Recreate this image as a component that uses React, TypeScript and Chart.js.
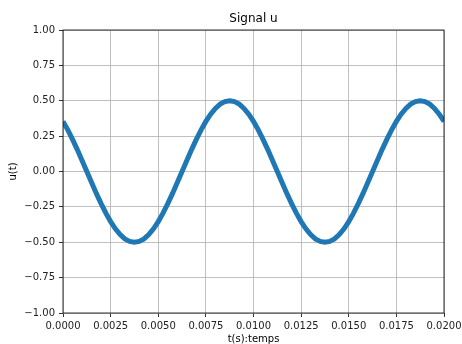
import React, { useEffect, useRef } from "react";
import { Chart, registerables } from "chart.js";

Chart.register(...registerables);

const TITLE = "Signal u";
const X_LABEL = "t(s):temps";
const Y_LABEL = "u(t)";

const times = [
  0, 0.00025, 0.0005, 0.00075, 0.001, 0.00125, 0.0015, 0.00175, 0.002, 0.00225,
  0.0025, 0.00275, 0.003, 0.00325, 0.0035, 0.00375, 0.004, 0.00425, 0.0045, 0.00475,
  0.005, 0.00525, 0.0055, 0.00575, 0.006, 0.00625, 0.0065, 0.00675, 0.007, 0.00725,
  0.0075, 0.00775, 0.008, 0.00825, 0.0085, 0.00875, 0.009, 0.00925, 0.0095, 0.00975,
  0.01, 0.01025, 0.0105, 0.01075, 0.011, 0.01125, 0.0115, 0.01175, 0.012, 0.01225,
  0.0125, 0.01275, 0.013, 0.01325, 0.0135, 0.01375, 0.014, 0.01425, 0.0145, 0.01475,
  0.015, 0.01525, 0.0155, 0.01575, 0.016, 0.01625, 0.0165, 0.01675, 0.017, 0.01725,
  0.0175, 0.01775, 0.018, 0.01825, 0.0185, 0.01875, 0.019, 0.01925, 0.0195, 0.01975,
  0.02,
];

const uValues = [
  0.354, 0.294, 0.227, 0.155, 0.078, 0.0, -0.078, -0.155, -0.227, -0.294,
  -0.354, -0.405, -0.446, -0.476, -0.494, -0.5, -0.494, -0.476, -0.446, -0.405,
  -0.354, -0.294, -0.227, -0.155, -0.078, 0.0, 0.078, 0.155, 0.227, 0.294,
  0.354, 0.405, 0.446, 0.476, 0.494, 0.5, 0.494, 0.476, 0.446, 0.405,
  0.354, 0.294, 0.227, 0.155, 0.078, 0.0, -0.078, -0.155, -0.227, -0.294,
  -0.354, -0.405, -0.446, -0.476, -0.494, -0.5, -0.494, -0.476, -0.446, -0.405,
  -0.354, -0.294, -0.227, -0.155, -0.078, 0.0, 0.078, 0.155, 0.227, 0.294,
  0.354, 0.405, 0.446, 0.476, 0.494, 0.5, 0.494, 0.476, 0.446, 0.405,
  0.354,
];

const xTicks = [0, 0.0025, 0.005, 0.0075, 0.01, 0.0125, 0.015, 0.0175, 0.02];
const yTicks = [-1, -0.75, -0.5, -0.25, 0, 0.25, 0.5, 0.75, 1];

const FONT = "'DejaVu Sans', sans-serif";

const framePlugin = {
  id: "frameAndLabels",
  afterDraw(chart: any) {
    const { ctx, chartArea } = chart;
    const { left, right, top, bottom } = chartArea;
    ctx.save();
    ctx.strokeStyle = "#000";
    ctx.lineWidth = 0.8;
    ctx.strokeRect(left, top, right - left, bottom - top);
    ctx.fillStyle = "#000";
    ctx.textAlign = "center";
    ctx.textBaseline = "middle";
    ctx.font = `12px ${FONT}`;
    ctx.fillText(TITLE, (left + right) / 2, 19);
    ctx.font = `10px ${FONT}`;
    ctx.fillText(X_LABEL, (left + right) / 2, 339);
    ctx.translate(13, (top + bottom) / 2);
    ctx.rotate(-Math.PI / 2);
    ctx.fillText(Y_LABEL, 0, 0);
    ctx.restore();
  },
};

export default function App() {
  const ref = useRef<HTMLCanvasElement>(null);
  useEffect(() => {
    document.body.style.margin = "0";
    const canvas = ref.current!;
    const chart = new Chart(canvas, {
      type: "line",
      data: {
        datasets: [
          {
            data: times.map((t, i) => ({ x: t, y: uValues[i] })),
            borderColor: "#1f77b4",
            backgroundColor: "#1f77b4",
            borderWidth: 5,
            pointRadius: 0,
            tension: 0,
            fill: false,
          },
        ],
      },
      options: {
        animation: false,
        responsive: false,
        devicePixelRatio: 1,
        layout: { padding: { top: 30, right: 18, left: 0, bottom: 0 } },
        plugins: {
          legend: { display: false },
          title: { display: false },
          tooltip: { enabled: false },
        },
        scales: {
          x: {
            type: "linear",
            min: 0,
            max: 0.02,
            afterFit: (s: any) => {
              s.height = 31;
              s.paddingLeft = 0;
              s.paddingRight = 0;
            },
            afterBuildTicks: (s: any) => {
              s.ticks = xTicks.map((v) => ({ value: v }));
            },
            ticks: {
              autoSkip: false,
              maxRotation: 0,
              padding: 3,
              color: "#222",
              font: { family: FONT, size: 10 },
              callback: (v: any) => Number(v).toFixed(4),
            },
            grid: {
              color: "#b0b0b0",
              lineWidth: 0.8,
              tickColor: "#000",
              tickLength: 4,
              drawTicks: true,
            },
            border: { display: false },
          },
          y: {
            type: "linear",
            min: -1,
            max: 1,
            afterFit: (s: any) => {
              s.width = 63;
              s.paddingTop = 0;
              s.paddingBottom = 0;
            },
            afterBuildTicks: (s: any) => {
              s.ticks = yTicks.map((v) => ({ value: v }));
            },
            ticks: {
              autoSkip: false,
              padding: 4,
              color: "#222",
              font: { family: FONT, size: 10 },
              callback: (v: any) => {
                const n = Number(v);
                return (n < 0 ? "\u2212" : "") + Math.abs(n).toFixed(2);
              },
            },
            grid: {
              color: "#b0b0b0",
              lineWidth: 0.8,
              tickColor: "#000",
              tickLength: 4,
              drawTicks: true,
            },
            border: { display: false },
          },
        },
      },
      plugins: [framePlugin],
    });
    return () => chart.destroy();
  }, []);
  return (
    <div style={{ width: 462, height: 344 }}>
      <canvas ref={ref} width={462} height={344} style={{ display: "block" }} />
    </div>
  );
}
